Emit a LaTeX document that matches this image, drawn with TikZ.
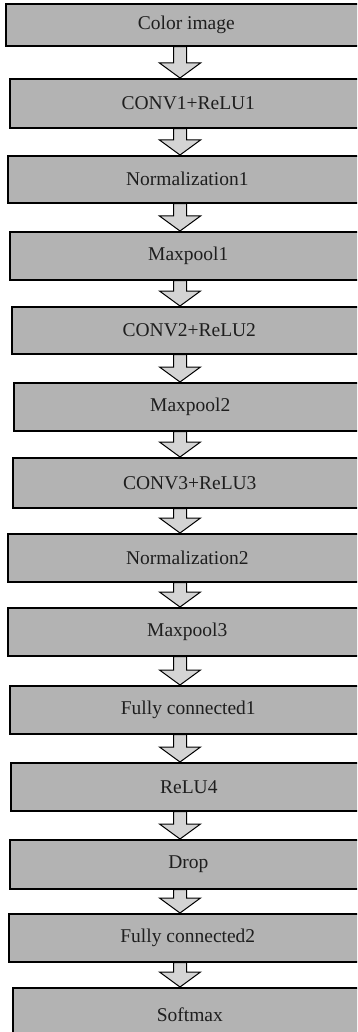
\documentclass[tikz,border=0pt]{standalone}
\usepackage{fontspec}
\setmainfont{Liberation Serif}
\usetikzlibrary{calc}
\definecolor{boxgrey}{HTML}{B3B3B3}
\definecolor{arrowgrey}{HTML}{D4D4D4}
\definecolor{inkgrey}{HTML}{1E1E1E}
\tikzset{
  every picture/.style={x=1pt, y=-1pt},
  layer/.style={draw=black, fill=boxgrey, line width=1.6pt, inner sep=0pt,
    anchor=north west, text=inkgrey, font=\fontsize{19.5}{23}\selectfont},
  blockarrow/.style={draw=black, fill=arrowgrey, line width=1pt, line join=miter},
}

\begin{document}
\begin{tikzpicture}
  \useasboundingbox (0,0) rectangle (357,1032);
  \clip (0,0) rectangle (357,1032);
  % layers of the network, top to bottom: index/left/top/bottom/label
  \foreach \i/\l/\t/\b/\txt in {
      1/5/3/45/Color image,
      2/9/78/127/CONV1+ReLU1,
      3/7/155/202/Normalization1,
      4/9/231/279/Maxpool1,
      5/11/306/353/CONV2+ReLU2,
      6/13/382/430/Maxpool2,
      7/12/457/507/CONV3+ReLU3,
      8/7/533/581/Normalization2,
      9/7/607/655/Maxpool3,
      10/9/685/733/Fully connected1,
      11/10/762/810/ReLU4,
      12/9/839/888/Drop,
      13/8/913/961/Fully connected2,
      14/12/987/1040/Softmax}
    \node[layer, minimum width={366-\l}, minimum height={\b-\t}] (b\i) at (\l,\t) {\txt};
  % hollow block arrows between the layers
  \foreach \i [evaluate=\i as \j using int(\i+1)] in {1,...,13}
    \draw[blockarrow] let \p1=(b\i.south), \p2=(b\j.north) in
      (173.5pt,\y1) -- (173.5pt,{\y2+15pt}) -- (159.5pt,{\y2+15pt}) -- (180pt,\y2)
      -- (200.5pt,{\y2+15pt}) -- (186.5pt,{\y2+15pt}) -- (186.5pt,\y1) -- cycle;
\end{tikzpicture}
\end{document}
